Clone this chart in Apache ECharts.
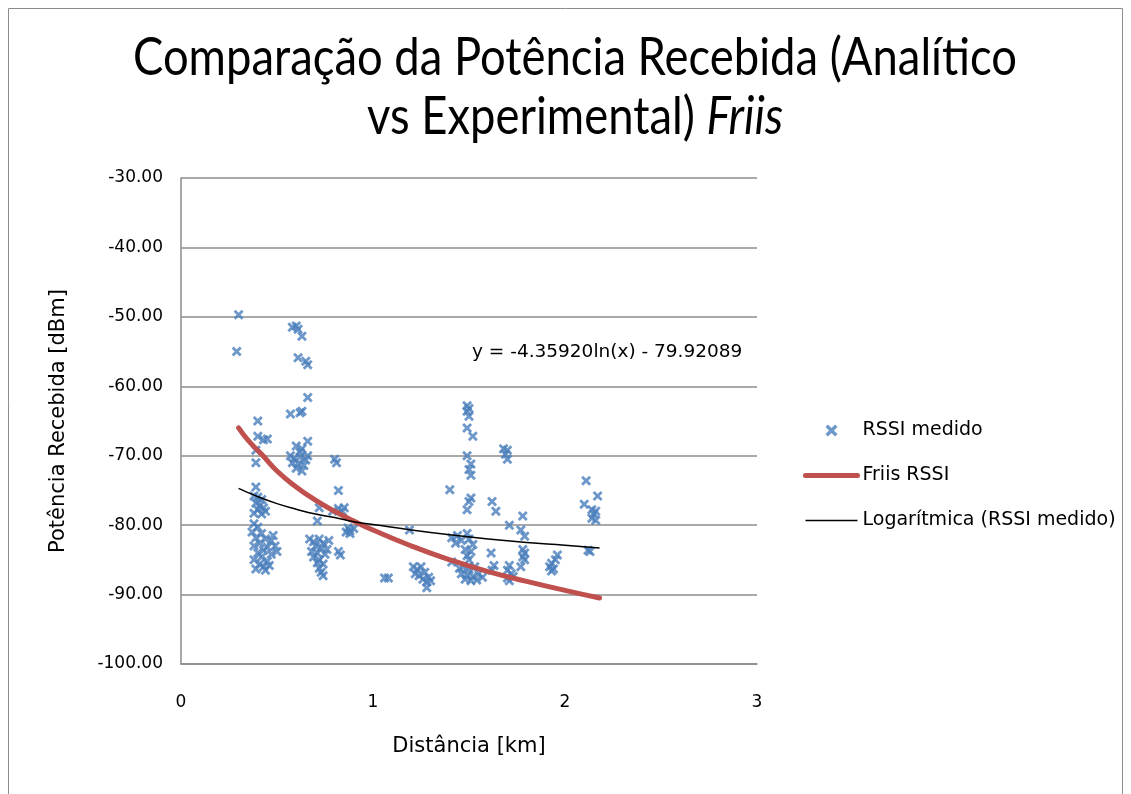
<!DOCTYPE html>
<html>
<head>
<meta charset="utf-8">
<script src="https://cdn.jsdelivr.net/npm/echarts@6/dist/echarts.min.js"></script>
<style>
html,body{margin:0;padding:0;background:#fff;}
#chart{width:1131px;height:794px;}
</style>
</head>
<body>
<div id="chart"></div>
<script>
// ---- data ----
const titleLine1 = 'Comparação da Potência Recebida (Analítico';
const titleLine2 = 'vs Experimental) ';
const titleItalic = 'Friis';
const xAxisTitle = 'Distância [km]';
const yAxisTitle = 'Potência Recebida [dBm]';
const seriesNames = ['RSSI medido', 'Friis RSSI', 'Logarítmica (RSSI medido)'];
const equationText = 'y = -4.35920ln(x) - 79.92089';
const xTicks = [0, 1, 2, 3];
const yTicks = [-100, -90, -80, -70, -60, -50, -40, -30];

// measured RSSI (scatter): distance [km]
const measuredDist = [
  0.30,0.29,
  0.40,0.40,0.45,0.43,0.39,0.39,0.39,
  0.38,0.40,0.42,0.39,0.41,0.43,0.40,0.44,0.42,0.38,
  0.38,0.40,0.37,0.42,0.39,0.44,0.47,0.41,0.38,0.45,0.49,0.43,0.40,0.47,0.42,0.38,0.45,0.41,0.43,0.39,0.46,0.44,0.50,0.48,
  0.58,0.60,0.61,0.63,0.61,0.65,0.66,0.66,0.57,0.62,0.63,0.66,
  0.60,0.63,0.57,0.59,0.62,0.65,0.58,0.61,0.64,0.60,0.63,0.66,0.62,
  0.80,0.81,0.82,
  0.72,0.71,0.79,0.82,0.85,0.84,0.87,0.86,0.88,0.90,0.88,
  0.67,0.69,0.72,0.74,0.70,0.73,0.68,0.71,0.75,0.69,0.72,0.76,0.74,0.72,0.73,0.74,0.71,0.77,0.83,0.82,
  1.06,1.08,1.19,
  1.21,1.23,1.25,1.22,1.24,1.27,1.26,1.28,1.29,1.28,1.30,
  1.49,1.50,1.49,1.50,1.49,1.52,1.49,1.51,1.50,1.51,1.40,1.51,1.50,1.49,
  1.41,1.44,1.46,1.43,1.49,1.50,1.52,1.48,1.51,1.49,1.50,1.41,
  1.45,1.47,1.50,1.53,1.46,1.49,1.52,1.55,1.48,1.51,1.54,1.57,
  1.62,1.64,1.615,1.63,1.62,
  1.68,1.70,1.69,1.70,1.71,1.71,1.70,1.72,1.70,1.73,1.71,
  1.78,1.77,1.79,1.78,1.79,1.78,1.79,1.77,
  1.96,1.95,1.93,1.92,1.94,1.93,
  2.11,2.17,2.10,2.14,2.16,2.15,2.14,2.16,2.12,2.13
];
// measured RSSI (scatter): power [dBm]
const measuredRssi = [
  -49.7,-55.0,
  -65.0,-67.2,-67.6,-67.7,-69.2,-71.0,-74.5,
  -75.8,-76.0,-76.3,-76.8,-77.2,-77.5,-77.8,-78.0,-78.4,-78.3,
  -79.8,-80.3,-81.0,-81.2,-81.8,-82.0,-82.3,-82.6,-83.0,-83.2,-83.0,-83.6,-84.0,-84.2,-84.6,-85.0,-85.2,-85.6,-86.0,-86.3,-85.8,-86.5,-83.8,-81.5,
  -51.5,-51.3,-51.8,-52.8,-55.9,-56.4,-56.9,-61.6,-64.0,-63.8,-63.6,-67.9,
  -68.6,-69.0,-70.0,-70.4,-70.2,-70.6,-71.0,-71.2,-71.4,-71.8,-72.2,-70.0,-69.5,
  -70.5,-71.0,-75.0,
  -77.5,-79.4,-78.0,-77.6,-77.5,-78.0,-80.4,-81.0,-80.8,-80.5,-81.2,
  -82.0,-82.4,-82.0,-82.6,-83.0,-83.3,-83.8,-84.0,-84.2,-84.6,-85.0,-83.5,-85.6,-86.2,-86.8,-87.3,-85.4,-82.2,-84.3,-83.8,
  -87.6,-87.6,-80.7,
  -86.0,-86.4,-86.0,-87.0,-87.3,-86.8,-87.8,-88.2,-87.5,-89.0,-88.0,
  -62.8,-63.2,-63.6,-64.3,-66.0,-67.2,-70.0,-71.2,-72.0,-72.8,-74.9,-76.1,-76.6,-77.8,
  -81.8,-81.5,-82.2,-82.6,-81.2,-82.0,-82.8,-83.5,-83.8,-84.4,-85.0,-85.3,
  -86.2,-86.0,-86.4,-86.0,-87.0,-87.2,-87.4,-87.0,-87.8,-88.0,-87.9,-87.5,
  -76.6,-78.0,-84.0,-85.8,-86.5,
  -69.0,-69.2,-69.8,-70.5,-80.0,-85.8,-86.5,-87.0,-87.6,-87.4,-88.0,
  -78.7,-80.7,-81.6,-83.5,-84.0,-84.6,-85.0,-86.0,
  -84.3,-85.0,-85.5,-86.0,-86.3,-86.6,
  -73.6,-75.8,-77.0,-77.8,-78.0,-78.4,-79.0,-79.3,-83.6,-83.8
];

// Friis analytic curve
const friisDist = [0.30,0.35,0.42,0.50,0.60,0.70,0.80,0.90,1.00,1.20,1.40,1.60,1.80,2.00,2.18];
const friisRssi = [-66.0,-67.8,-69.8,-72.2,-74.5,-76.4,-78.0,-79.4,-80.7,-83.0,-85.0,-86.7,-88.1,-89.4,-90.5];

// logarithmic trend line
const trendDist = [0.30,0.40,0.50,0.60,0.70,0.80,0.90,1.00,1.20,1.40,1.60,1.80,2.00,2.18];
const trendRssi = [-74.7,-75.9,-76.9,-77.7,-78.4,-78.9,-79.5,-79.9,-80.7,-81.4,-82.0,-82.5,-82.9,-83.3];

// ---- build chart ----
const zip = (a, b) => a.map((v, i) => [v, b[i]]);
const xMark = 'path://M0,2 L2,0 L5,3 L8,0 L10,2 L7,5 L10,8 L8,10 L5,7 L2,10 L0,8 L3,5 Z';
const bodyFont = 'DejaVu Sans';
const titleFont = 'Lato';
const titleSize = 52;
const gridColor = '#8c8c8c';

// condense the title horizontally to the reference line width
const ctx = document.createElement('canvas').getContext('2d');
ctx.font = titleSize + 'px "' + titleFont + '"';
const line1Width = ctx.measureText(titleLine1).width;
const titleScale = 884 / line1Width;

const chart = echarts.init(document.getElementById('chart'), null, {renderer: 'canvas'});
chart.setOption({
  backgroundColor: '#ffffff',
  animation: false,
  grid: {left: 181, right: 374, top: 178, bottom: 130, containLabel: false},
  xAxis: {
    type: 'value', min: xTicks[0], max: xTicks[xTicks.length - 1], interval: 1,
    name: xAxisTitle, nameLocation: 'middle', nameGap: 72,
    nameTextStyle: {fontFamily: bodyFont, fontSize: 21, color: '#000'},
    axisLine: {show: true, lineStyle: {color: gridColor, width: 1.5}},
    axisTick: {show: false},
    splitLine: {show: false},
    axisLabel: {fontFamily: bodyFont, fontSize: 17, color: '#000', margin: 30}
  },
  yAxis: {
    type: 'value', min: yTicks[0], max: yTicks[yTicks.length - 1], interval: 10,
    name: yAxisTitle, nameLocation: 'middle', nameGap: 112, nameRotate: 90,
    nameTextStyle: {fontFamily: bodyFont, fontSize: 21, color: '#000'},
    axisLine: {show: true, lineStyle: {color: gridColor, width: 1.5}},
    axisTick: {show: false},
    splitLine: {show: true, lineStyle: {color: gridColor, width: 1.5}},
    axisLabel: {fontFamily: bodyFont, fontSize: 17, color: '#000', margin: 18,
      formatter: v => v.toFixed(2)}
  },
  legend: {
    orient: 'vertical', left: 798, top: 416, itemWidth: 52, itemHeight: 12, itemGap: 26,
    textStyle: {fontFamily: bodyFont, fontSize: 19, color: '#000'},
    data: [
      {name: seriesNames[0], icon: xMark},
      {name: seriesNames[1], itemStyle: {opacity: 0}, lineStyle: {width: 5, color: '#c0504d', cap: 'round'}},
      {name: seriesNames[2], itemStyle: {opacity: 0}, lineStyle: {width: 1.5, color: '#000'}}
    ]
  },
  series: [
    {
      name: seriesNames[0], type: 'scatter', data: zip(measuredDist, measuredRssi),
      symbol: xMark, symbolSize: 10, symbolKeepAspect: true,
      itemStyle: {color: '#4a7ebb'}, z: 2
    },
    {
      name: seriesNames[1], type: 'line', data: zip(friisDist, friisRssi),
      smooth: true, symbol: 'none', lineStyle: {color: '#c0504d', width: 5, cap: 'round'},
      itemStyle: {color: '#c0504d'}, z: 3
    },
    {
      name: seriesNames[2], type: 'line', data: zip(trendDist, trendRssi),
      smooth: true, symbol: 'none', lineStyle: {color: '#000', width: 1.5},
      itemStyle: {color: '#000'}, z: 4
    }
  ],
  graphic: [
    {type: 'rect', shape: {x: 8.5, y: 8.5, width: 1114, height: 800}, style: {fill: 'none', stroke: '#8c8c8c', lineWidth: 1}, silent: true, z: -1},
    {type: 'text', x: 575, y: 58, scaleX: titleScale, scaleY: 1,
      style: {text: titleLine1, font: titleSize + 'px "' + titleFont + '"', fill: '#000', textAlign: 'center', textVerticalAlign: 'middle'}},
    {type: 'text', x: 575, y: 117, scaleX: titleScale, scaleY: 1,
      style: {text: '{a|' + titleLine2 + '}{i|' + titleItalic + '}', textAlign: 'center', textVerticalAlign: 'middle',
        rich: {
          a: {fontFamily: titleFont, fontSize: titleSize, color: '#000'},
          i: {fontFamily: titleFont, fontSize: titleSize, fontStyle: 'italic', color: '#000'}
        }}},
    {type: 'text', left: 472, top: 343, style: {text: equationText, font: '18.5px "DejaVu Sans"', fill: '#000'}}
  ]
});
</script>
</body>
</html>
